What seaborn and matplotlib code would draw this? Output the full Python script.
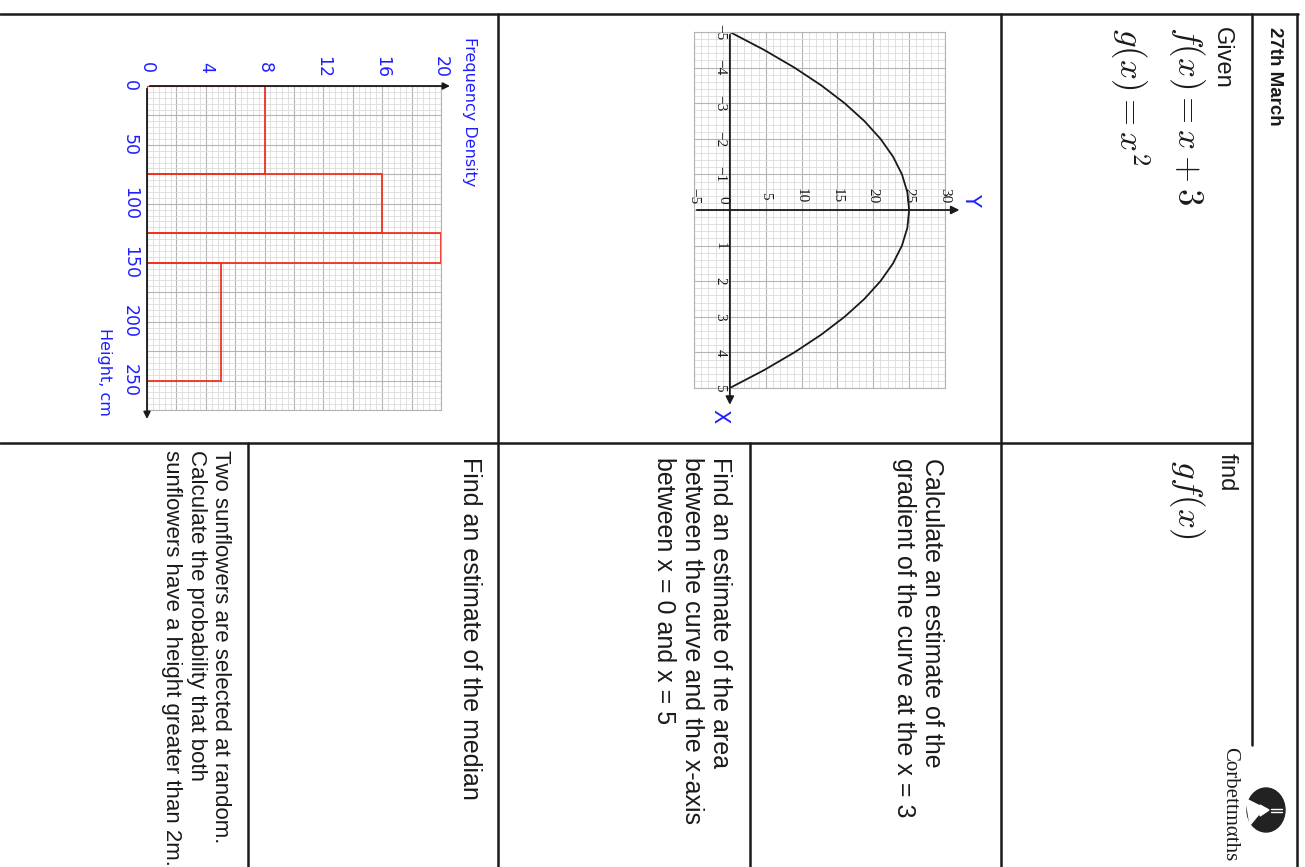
import numpy as np
import matplotlib
matplotlib.use("Agg")
import matplotlib.pyplot as plt
from matplotlib.ticker import MultipleLocator
from matplotlib.patches import Ellipse, Polygon
import seaborn as sns

sns.set_style("white")
plt.rcParams["font.family"] = ["Liberation Sans", "DejaVu Sans"]
plt.rcParams["mathtext.fontset"] = "cm"

# ---- data read from the worksheet ----
# curve y = f(x)
curve_x = [-5, -4.5, -4, -3.5, -3, -2.5, -2, -1.5, -1, -0.5, 0,
           0.5, 1, 1.5, 2, 2.5, 3, 3.5, 4, 4.5, 5]
curve_y = [0, 4.75, 9, 12.75, 16, 18.75, 21, 22.75, 24, 24.75, 25,
           24.75, 24, 22.75, 21, 18.75, 16, 12.75, 9, 4.75, 0]
curve_xticks = [-5, -4, -3, -2, -1, 1, 2, 3, 4, 5]
curve_yticks = [-5, 5, 10, 15, 20, 25, 30]

# histogram of sunflower heights
class_start = [0, 75, 125, 150]
class_width = [75, 50, 25, 100]
freq_density = [8, 16, 20, 5]
fd_ticks = [0, 4, 8, 12, 16, 20]
height_ticks = [0, 50, 100, 150, 200, 250]

BLUE = "#1f1fff"
RED = "#ee3322"
INK = "#1a1a1a"

W, H = 1305, 867


def px_rect(l, t, r, b):
    return [l / W, 1 - b / H, (r - l) / W, (b - t) / H]


fig = plt.figure(figsize=(W / 100, H / 100), dpi=100)

# overlay in pixel coordinates for the worksheet frame and text
page = fig.add_axes([0, 0, 1, 1])
page.set_xlim(0, W)
page.set_ylim(H, 0)
page.axis("off")

frame_lw = 1.8
page.plot([0, 1298], [14, 14], color=INK, lw=frame_lw)
page.plot([1297, 1297], [14, H], color=INK, lw=frame_lw)
page.plot([1252, 1252], [14, 745], color=INK, lw=frame_lw)
page.plot([1001, 1001], [14, H], color=INK, lw=frame_lw)
page.plot([498, 498], [14, H], color=INK, lw=frame_lw)
page.plot([0, 1252], [443, 443], color=INK, lw=frame_lw)
page.plot([750, 750], [443, H], color=INK, lw=frame_lw)
page.plot([248, 248], [443, H], color=INK, lw=frame_lw)

# header and questions (whole sheet is turned a quarter turn)
page.text(1274, 27, "27th March", rotation=-90, ha="center", va="top",
          fontsize=13.5, fontweight="bold", color=INK)
page.text(1222, 27, "Given", rotation=-90, ha="center", va="top",
          fontsize=17, color=INK)
page.text(1187, 26, r"$f(x) = x + 3$", rotation=-90, ha="center", va="top",
          fontsize=25, color=INK)
page.text(1130, 28, r"$g(x) = x^2$", rotation=-90, ha="center", va="top",
          fontsize=25, color=INK)
page.text(1227, 453, "find", rotation=-90, ha="center", va="top",
          fontsize=17, color=INK)
page.text(1187, 460, r"$gf(x)$", rotation=-90, ha="center", va="top",
          fontsize=25, color=INK)

page.text(918, 458, "Calculate an estimate of the\ngradient of the curve at the x = 3",
          rotation=-90, ha="center", va="top", multialignment="left",
          fontsize=18, linespacing=1.2, color=INK)
page.text(692, 457, "Find an estimate of the area\nbetween the curve and the x-axis\n"
          "between x = 0 and x = 5",
          rotation=-90, ha="center", va="top", multialignment="left",
          fontsize=18, linespacing=1.2, color=INK)
page.text(470, 457, "Find an estimate of the median", rotation=-90,
          ha="center", va="top", fontsize=18, color=INK)
page.text(196, 450, "Two sunflowers are selected at random.\n"
          "Calculate the probability that both\n"
          "sunflowers have a height greater than 2m.",
          rotation=-90, ha="center", va="top", multialignment="left",
          fontsize=16, linespacing=1.2, color=INK)

# logo
page.text(1230, 747, "Corbettm\u03b1ths", rotation=-90, ha="center", va="top",
          fontsize=15, family=["Liberation Serif", "DejaVu Serif"], color=INK)
page.add_patch(Ellipse((1266, 810), 38, 44, color="#222222"))
page.add_patch(Polygon([[1246, 799], [1264, 808], [1250, 825]], color="white"))
page.add_patch(Polygon([[1260, 805], [1269, 810], [1260, 816]], color="white"))
page.plot([1271, 1282], [808.5, 808.5], color="white", lw=1)
page.plot([1271, 1282], [811.5, 811.5], color="white", lw=1)

# ---- curve graph ----
ax1 = fig.add_axes(px_rect(694, 32, 945, 388))
sns.lineplot(x=curve_y, y=curve_x, sort=False, estimator=None,
             color=INK, lw=1.3, ax=ax1)
ax1.set_xlim(-5, 30)
ax1.set_ylim(5, -5)
ax1.xaxis.set_major_locator(MultipleLocator(5))
ax1.xaxis.set_minor_locator(MultipleLocator(1))
ax1.yaxis.set_major_locator(MultipleLocator(1))
ax1.yaxis.set_minor_locator(MultipleLocator(0.2))
ax1.grid(which="major", color="#b4b4b4", lw=0.8)
ax1.grid(which="minor", color="#dcdcdc", lw=0.6)
ax1.tick_params(which="both", length=0, labelbottom=False, labelleft=False)
ax1.set_xlabel("")
ax1.set_ylabel("")
for s in ax1.spines.values():
    s.set_color("#b4b4b4")
    s.set_linewidth(0.8)
ax1.annotate("", xy=(32.4, 0), xytext=(-5, 0), annotation_clip=False,
             arrowprops=dict(arrowstyle="-|>", color=INK, lw=1.3, mutation_scale=12))
ax1.annotate("", xy=(0, 5.55), xytext=(0, -5), annotation_clip=False,
             arrowprops=dict(arrowstyle="-|>", color=INK, lw=1.3, mutation_scale=12))
serif = ["Liberation Serif", "DejaVu Serif"]
for v in curve_yticks:
    ax1.text(v, -0.4, str(v).replace("-", "\u2212"), rotation=-90, ha="center",
             va="center", fontsize=11, family=serif, color=INK)
ax1.text(-1, -0.3, "0", rotation=-90, ha="center", va="center",
         fontsize=11, family=serif, color=INK)
for v in curve_xticks:
    ax1.text(-1.4, v, str(v).replace("-", "\u2212"), rotation=-90, ha="center",
             va="center", fontsize=11, family=serif, color=INK)
ax1.text(33.6, -0.3, "Y", rotation=-90, ha="center", va="center",
         fontsize=15, color=BLUE, family="DejaVu Sans")
ax1.text(-1.5, 5.8, "X", rotation=-90, ha="center", va="center",
         fontsize=15, color=BLUE, family="DejaVu Sans")

# ---- histogram ----
ax2 = fig.add_axes(px_rect(147, 86, 441, 410))
ax2.barh(class_start, freq_density, height=class_width, left=0, align="edge",
         fill=False, edgecolor=RED, lw=1.3, zorder=3)
ax2.set_xlim(0, 20)
ax2.set_ylim(275, 0)
ax2.xaxis.set_major_locator(MultipleLocator(2))
ax2.xaxis.set_minor_locator(MultipleLocator(0.4))
ax2.yaxis.set_major_locator(MultipleLocator(25))
ax2.yaxis.set_minor_locator(MultipleLocator(5))
ax2.grid(which="major", color="#b4b4b4", lw=0.8)
ax2.grid(which="minor", color="#dcdcdc", lw=0.6)
ax2.tick_params(which="both", length=0, labelbottom=False, labelleft=False)
for s in ax2.spines.values():
    s.set_color("#b4b4b4")
    s.set_linewidth(0.8)
ax2.annotate("", xy=(20.8, 0), xytext=(0, 0), annotation_clip=False,
             arrowprops=dict(arrowstyle="-|>", color=INK, lw=1.3, mutation_scale=10))
ax2.annotate("", xy=(0, 285), xytext=(0, 0), annotation_clip=False,
             arrowprops=dict(arrowstyle="-|>", color=INK, lw=1.3, mutation_scale=10))
for v in fd_ticks:
    ax2.text(v, -16, str(v), rotation=-90, ha="center", va="center",
             fontsize=12.5, color=BLUE, family="DejaVu Sans")
for v in height_ticks:
    ax2.text(-1.15, v, str(v), rotation=-90, ha="center", va="center",
             fontsize=12.5, color=BLUE, family="DejaVu Sans")
page.text(470, 37, "Frequency Density", rotation=-90, ha="center", va="top",
          fontsize=11.5, color=BLUE, family="DejaVu Sans")
page.text(104, 328, "Height, cm", rotation=-90, ha="center", va="top",
          fontsize=11.5, color=BLUE, family="DejaVu Sans")

fig.savefig("out.png", dpi=100)
